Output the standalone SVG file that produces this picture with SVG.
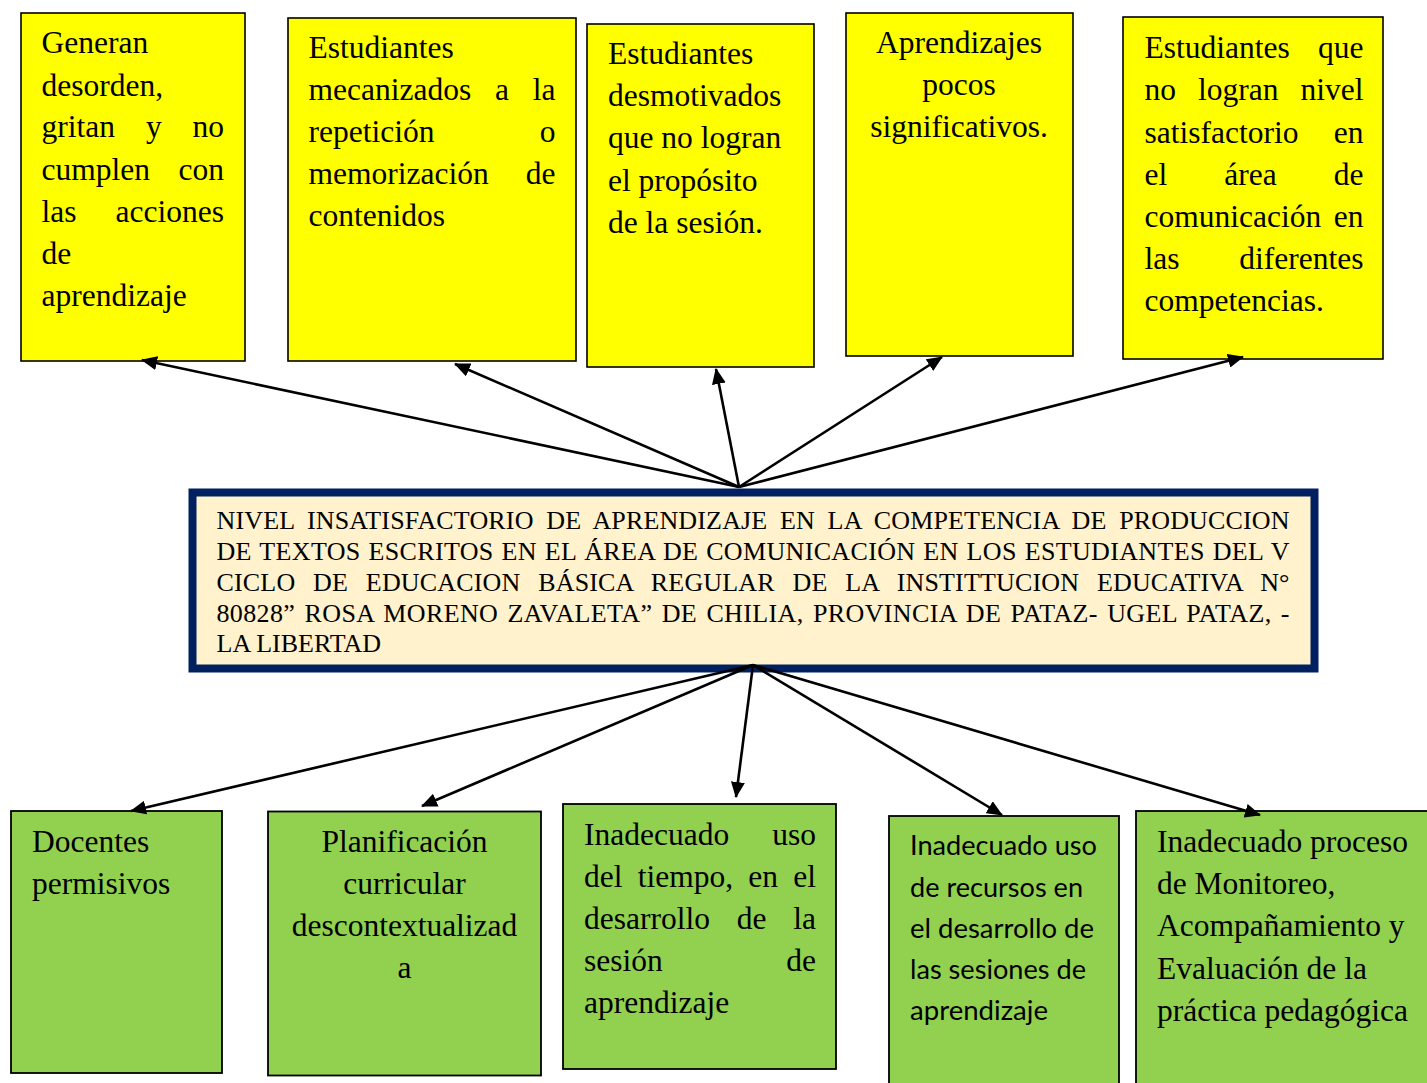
<svg xmlns="http://www.w3.org/2000/svg" width="1427" height="1083" viewBox="0 0 1427 1083">
<style>
.y{fill:#FFFF00;stroke:#000;stroke-width:1.6}
.g{fill:#92D050;stroke:#000;stroke-width:1.8}
.t{font-family:"Liberation Serif","Times New Roman",serif;font-size:31.5px;fill:#000}
.c{font-family:"Liberation Serif","Times New Roman",serif;font-size:26px;fill:#000}
.s{font-family:Lato,"Noto Sans",sans-serif;font-size:27px;fill:#000}
.e{text-anchor:end}
.m{text-anchor:middle}
.ln{stroke:#000;stroke-width:2.6;fill:none;marker-end:url(#ah)}
</style>
<defs>
<marker id="ah" markerUnits="userSpaceOnUse" markerWidth="16" markerHeight="14" viewBox="0 0 16 14" refX="15" refY="7" orient="auto">
<path d="M0,0 L16,7 L0,14 Z" fill="#000"/>
</marker>
</defs>
<rect width="1427" height="1083" fill="#fff"/>

<g id="e1">
<rect class="y" x="21" y="13" width="224" height="348"/>
<text class="t"><tspan x="41.5" y="53">Generan</tspan><tspan x="41.5" y="95.5">desorden,</tspan></text>
<text class="t" y="137"><tspan x="41.5">gritan</tspan><tspan x="146">y</tspan><tspan class="e" x="224">no</tspan></text>
<text class="t" y="179.5"><tspan x="41.5">cumplen</tspan><tspan class="e" x="224">con</tspan></text>
<text class="t" y="221.5"><tspan x="41.5">las</tspan><tspan class="e" x="224">acciones</tspan></text>
<text class="t"><tspan x="41.5" y="263.5">de</tspan><tspan x="41.5" y="305.5">aprendizaje</tspan></text>
</g>

<g id="e2">
<rect class="y" x="288" y="18" width="288" height="343"/>
<text class="t" x="308.5" y="57.5">Estudiantes</text>
<text class="t" y="99.5"><tspan x="308.5">mecanizados</tspan><tspan x="495">a</tspan><tspan class="e" x="555.5">la</tspan></text>
<text class="t" y="142"><tspan x="308.5">repetición</tspan><tspan class="e" x="555.5">o</tspan></text>
<text class="t" y="184"><tspan x="308.5">memorización</tspan><tspan class="e" x="555.5">de</tspan></text>
<text class="t" x="308.5" y="226">contenidos</text>
</g>

<g id="e3">
<rect class="y" x="587" y="24" width="227" height="343"/>
<text class="t"><tspan x="608" y="63.5">Estudiantes</tspan><tspan x="608" y="106">desmotivados</tspan><tspan x="608" y="148">que no logran</tspan><tspan x="608" y="190.5">el propósito</tspan><tspan x="608" y="233">de la sesión.</tspan></text>
</g>

<g id="e4">
<rect class="y" x="846" y="13" width="227" height="343"/>
<text class="t m"><tspan x="959" y="53">Aprendizajes</tspan><tspan x="959" y="95">pocos</tspan><tspan x="959" y="137">significativos.</tspan></text>
</g>

<g id="e5">
<rect class="y" x="1123" y="17" width="260" height="342"/>
<text class="t" y="58"><tspan x="1144.5">Estudiantes</tspan><tspan class="e" x="1363.5">que</tspan></text>
<text class="t" y="100"><tspan x="1144.5">no</tspan><tspan x="1198">logran</tspan><tspan class="e" x="1363.5">nivel</tspan></text>
<text class="t" y="142.5"><tspan x="1144.5">satisfactorio</tspan><tspan class="e" x="1363.5">en</tspan></text>
<text class="t" y="184.5"><tspan x="1144.5">el</tspan><tspan x="1224.3">área</tspan><tspan class="e" x="1363.5">de</tspan></text>
<text class="t" y="226.5"><tspan x="1144.5">comunicación</tspan><tspan class="e" x="1363.5">en</tspan></text>
<text class="t" y="268.5"><tspan x="1144.5">las</tspan><tspan class="e" x="1363.5">diferentes</tspan></text>
<text class="t" x="1144.5" y="311">competencias.</text>
</g>

<g id="problema">
<rect x="192.5" y="492.5" width="1122" height="176" fill="#FFF2CC" stroke="#002060" stroke-width="8"/>
<text class="c" x="216.5" y="529" word-spacing="6" textLength="1073" lengthAdjust="spacing">NIVEL INSATISFACTORIO DE APRENDIZAJE EN LA COMPETENCIA DE PRODUCCION</text>
<text class="c" x="216.5" y="560" word-spacing="1.1" textLength="1073" lengthAdjust="spacing">DE TEXTOS ESCRITOS EN EL ÁREA DE COMUNICACIÓN EN LOS ESTUDIANTES DEL V</text>
<text class="c" x="216.5" y="591" word-spacing="11.1" textLength="1073" lengthAdjust="spacing">CICLO DE EDUCACION BÁSICA REGULAR DE LA INSTITTUCION EDUCATIVA N°</text>
<text class="c" x="216.5" y="621.5" word-spacing="2.45" textLength="1073" lengthAdjust="spacing">80828” ROSA MORENO ZAVALETA” DE CHILIA, PROVINCIA DE PATAZ- UGEL PATAZ, -</text>
<text class="c" x="216.5" y="652">LA LIBERTAD</text>
</g>

<g id="c1">
<rect class="g" x="11" y="811" width="211" height="262"/>
<text class="t"><tspan x="32" y="852">Docentes</tspan><tspan x="32" y="893.5">permisivos</tspan></text>
</g>

<g id="c2">
<rect class="g" x="268" y="811.5" width="273" height="264"/>
<text class="t m"><tspan x="404.5" y="852">Planificación</tspan><tspan x="404.5" y="893.5">curricular</tspan><tspan x="404.5" y="936">descontextualizad</tspan><tspan x="404.5" y="978">a</tspan></text>
</g>

<g id="c3">
<rect class="g" x="563" y="804" width="273" height="265"/>
<text class="t" y="844.5"><tspan x="584">Inadecuado</tspan><tspan class="e" x="816">uso</tspan></text>
<text class="t" y="887"><tspan x="584">del</tspan><tspan x="637.7">tiempo,</tspan><tspan x="748.3">en</tspan><tspan class="e" x="816">el</tspan></text>
<text class="t" y="929"><tspan x="584">desarrollo</tspan><tspan x="736.8">de</tspan><tspan class="e" x="816">la</tspan></text>
<text class="t" y="971"><tspan x="584">sesión</tspan><tspan class="e" x="816">de</tspan></text>
<text class="t" x="584" y="1013">aprendizaje</text>
</g>

<g id="c4">
<rect class="g" x="889" y="816" width="230" height="280"/>
<text class="s" x="910" y="855" textLength="187" lengthAdjust="spacingAndGlyphs">Inadecuado uso</text>
<text class="s" x="910" y="896.5" textLength="173" lengthAdjust="spacingAndGlyphs">de recursos en</text>
<text class="s" x="910" y="937.5" textLength="184" lengthAdjust="spacingAndGlyphs">el desarrollo de</text>
<text class="s" x="910" y="979" textLength="176" lengthAdjust="spacingAndGlyphs">las sesiones de</text>
<text class="s" x="910" y="1020" textLength="138" lengthAdjust="spacingAndGlyphs">aprendizaje</text>
</g>

<g id="c5">
<rect class="g" x="1136" y="811" width="300" height="285"/>
<text class="t"><tspan x="1157" y="852">Inadecuado proceso</tspan><tspan x="1157" y="893.5">de Monitoreo,</tspan><tspan x="1157" y="936">Acompañamiento y</tspan><tspan x="1157" y="978.5">Evaluación de la</tspan><tspan x="1157" y="1020.5">práctica pedagógica</tspan></text>
</g>

<g id="connectors">
<line class="ln" x1="739" y1="487" x2="142" y2="360"/>
<line class="ln" x1="739" y1="487" x2="455" y2="364"/>
<line class="ln" x1="739" y1="487" x2="716" y2="369"/>
<line class="ln" x1="739" y1="487" x2="942" y2="357"/>
<line class="ln" x1="739" y1="487" x2="1243" y2="357"/>
<line class="ln" x1="753" y1="665" x2="131" y2="811"/>
<line class="ln" x1="753" y1="665" x2="422" y2="806"/>
<line class="ln" x1="753" y1="665" x2="736" y2="797"/>
<line class="ln" x1="753" y1="665" x2="1002" y2="815"/>
<line class="ln" x1="753" y1="665" x2="1260" y2="815"/>
</g>
</svg>
